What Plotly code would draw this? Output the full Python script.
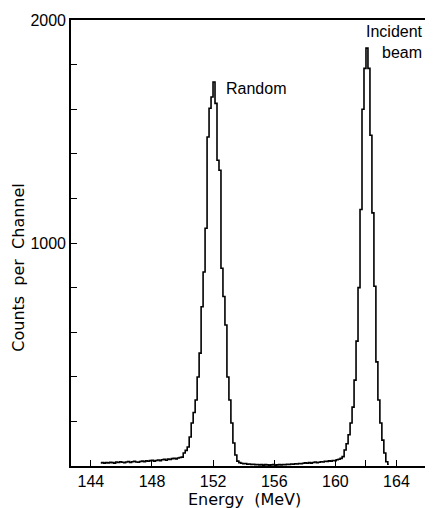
import plotly.graph_objects as go

# ---- data ----
# channel grid (MeV): first channel centre and channel width
E_FIRST = 144.65
CHANNEL_WIDTH = 0.13

# counts per channel, from the first channel onwards
baseline_low = [14, 15, 13, 16, 14, 17, 15, 13, 18, 16,
                19, 17, 15, 18, 20, 16, 19, 21, 18, 17,
                20, 22, 19, 23, 21, 24, 26, 22, 25, 27,
                24, 28, 30, 26, 31, 29, 33, 35, 32, 36, 38]
random_peak = [40, 58, 70, 85, 130, 193, 240, 296, 399, 506, 714, 870, 1066,
               1475, 1604, 1655, 1722, 1626, 1371, 1326, 887, 760, 632, 399,
               296, 193, 103, 49, 22]
baseline_mid = [15, 12, 10, 11, 8, 9, 7, 8, 6, 7,
                5, 6, 4, 6, 5, 4, 5, 6, 4, 5,
                6, 5, 7, 6, 8, 7, 9, 8, 10, 9,
                11, 10, 12, 14, 12, 15, 13, 16, 18, 15,
                17, 19, 18, 21, 20, 23, 22, 25, 24, 28, 30, 34]
incident_peak = [42, 72, 100, 140, 193, 264, 385, 560, 800, 1150, 1600, 1783,
                 1874, 1783, 1483, 1135, 806, 467, 296, 193, 116, 58, 19, 8]

counts = baseline_low + random_peak + baseline_mid + incident_peak
energies = [E_FIRST + CHANNEL_WIDTH * i for i in range(len(counts))]

x_tickvals = [144, 148, 152, 156, 160, 162, 164]
x_ticktext = ["144", "148", "152", "156", "160", "", "164"]
y_tickvals = [0, 200, 400, 600, 800, 1000, 1200, 1400, 1600, 1800, 2000]
y_ticktext = ["", "", "", "", "", "1000", "", "", "", "", "2000"]

fig = go.Figure()
fig.add_trace(go.Scatter(
    x=energies, y=counts, mode="lines",
    line=dict(shape="hvh", color="black", width=1.6),
    showlegend=False, hoverinfo="skip"))

tickfont = dict(family="Liberation Sans", size=16, color="black")
fig.update_xaxes(
    range=[142.7, 166.13], tickvals=x_tickvals, ticktext=x_ticktext,
    ticks="inside", ticklen=6, tickwidth=1.4, tickcolor="black",
    showline=True, linecolor="black", linewidth=1.6, mirror=True,
    showgrid=False, zeroline=False, tickfont=tickfont)
fig.update_yaxes(
    range=[0, 2000], tickvals=y_tickvals, ticktext=y_ticktext,
    ticks="inside", ticklen=6, tickwidth=1.4, tickcolor="black",
    showline=True, linecolor="black", linewidth=1.6, mirror=True,
    showgrid=False, zeroline=False, tickfont=tickfont)

annfont = dict(family="Liberation Sans", size=16, color="black")
fig.add_annotation(x=152.7, y=1691, text="Random", showarrow=False,
                   xanchor="left", yanchor="middle", font=annfont)
fig.add_annotation(x=165.84, y=1900, text="Incident<br>beam", showarrow=False,
                   xanchor="right", yanchor="middle", align="right",
                   font=annfont)
titlefont = dict(family="DejaVu Sans", size=16, color="black")
fig.add_annotation(xref="paper", yref="paper", x=0.486, y=-0.076,
                   text="Energy  (MeV)", showarrow=False,
                   xanchor="center", yanchor="middle", font=titlefont)
fig.add_annotation(xref="paper", yref="paper", x=-0.146, y=0.444,
                   text="Counts  per  Channel", showarrow=False, textangle=-90,
                   xanchor="center", yanchor="middle", font=titlefont)

# the page places the figure 8 px in from the top-left corner
fig.update_layout(
    width=425, height=500,
    margin=dict(l=63, r=2, t=12, b=42),
    paper_bgcolor="white", plot_bgcolor="white")

fig.write_html("out.html")
